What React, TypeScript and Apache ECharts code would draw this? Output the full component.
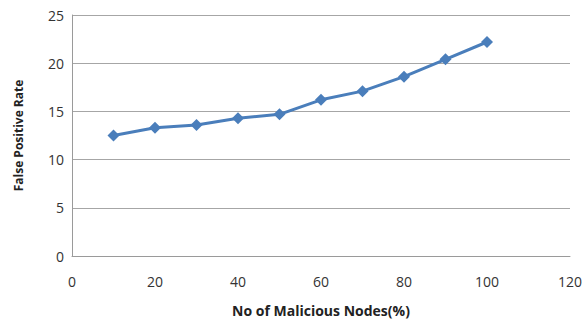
import React, { useEffect, useRef } from "react";
import * as echarts from "echarts";

// Percentage of malicious nodes vs false positive rate
const maliciousPct = [10, 20, 30, 40, 50, 60, 70, 80, 90, 100];
const falsePositiveRate = [12.5, 13.3, 13.6, 14.3, 14.7, 16.2, 17.1, 18.6, 20.4, 22.2];

const xTitle = "No of Malicious Nodes(%)";
const yTitle = "False Positive Rate";

export default function App() {
  const ref = useRef<HTMLDivElement>(null);

  useEffect(() => {
    if (!ref.current) return;
    const chart = echarts.init(ref.current, null, { renderer: "svg" });
    const font = "'Open Sans', 'Liberation Sans', sans-serif";
    chart.setOption({
      animation: false,
      backgroundColor: "#ffffff",
      grid: { left: 72, top: 15, right: 14, bottom: 66, outerBoundsMode: "none", containLabel: false },
      xAxis: {
        type: "value",
        min: 0,
        max: 120,
        interval: 20,
        name: xTitle,
        nameLocation: "middle",
        nameGap: 47,
        nameTextStyle: { fontFamily: font, fontWeight: "bold", fontSize: 14, color: "#222" },
        axisLine: { show: true, lineStyle: { color: "#9a9a9a", width: 1 } },
        axisTick: { show: false },
        splitLine: { show: false },
        axisLabel: { fontFamily: font, fontSize: 14, color: "#333", margin: 18 },
      },
      yAxis: {
        type: "value",
        min: 0,
        max: 25,
        interval: 5,
        name: yTitle,
        nameLocation: "middle",
        nameGap: 48,
        nameRotate: 90,
        nameTextStyle: { fontFamily: font, fontWeight: "bold", fontSize: 12, color: "#222" },
        axisLine: { show: true, lineStyle: { color: "#9a9a9a", width: 1 } },
        axisTick: { show: false },
        splitLine: { show: true, lineStyle: { color: "#a6a6a6", width: 1 } },
        axisLabel: { fontFamily: font, fontSize: 14, color: "#333", margin: 8 },
      },
      series: [
        {
          type: "line",
          data: maliciousPct.map((x, i) => [x, falsePositiveRate[i]]),
          symbol: "diamond",
          symbolSize: 12,
          lineStyle: { color: "#4a7ebb", width: 3 },
          itemStyle: { color: "#4a7ebb" },
        },
      ],
    });
    return () => chart.dispose();
  }, []);

  return <div ref={ref} style={{ width: 584, height: 322, position: "absolute", left: 0, top: 0 }} />;
}
